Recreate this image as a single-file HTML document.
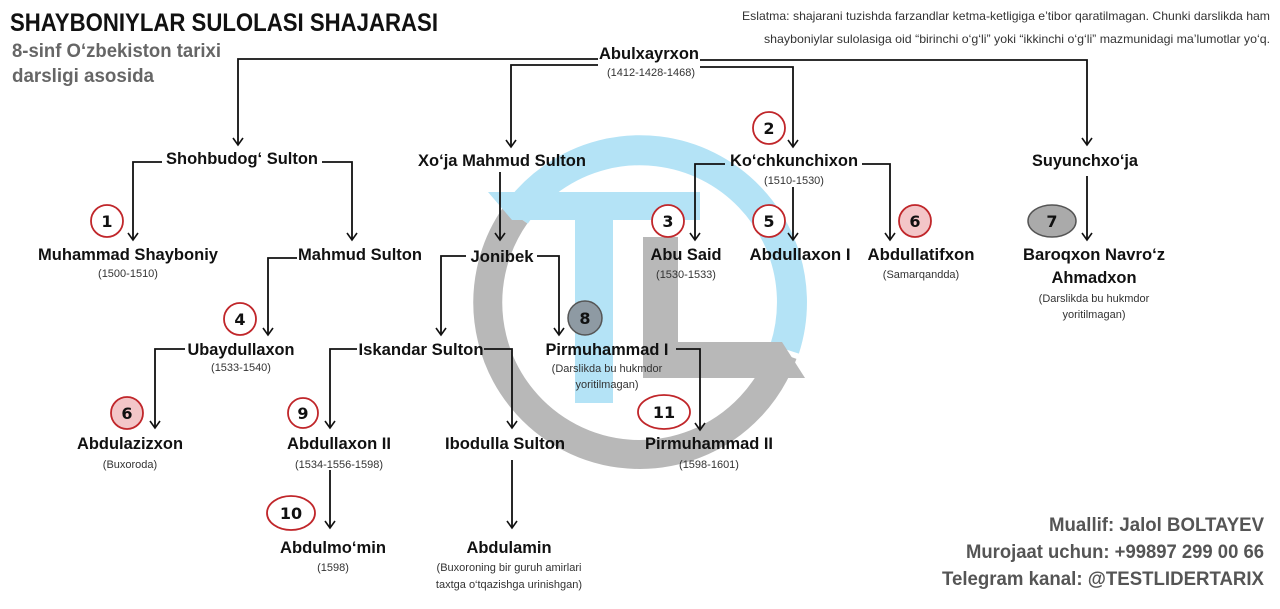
<!DOCTYPE html>
<html><head><meta charset="utf-8"><style>
html,body{margin:0;padding:0;background:#fff;}
svg{display:block;}
text{font-family:"Liberation Sans Narrow","Liberation Sans",sans-serif;}
.n{font-weight:bold;font-size:17px;fill:#111;text-anchor:middle;}
.d{font-size:11px;fill:#333;text-anchor:middle;}
.c{font-weight:bold;font-size:16px;fill:#111;text-anchor:middle;font-family:"DejaVu Sans","Liberation Sans",sans-serif;}
</style></head><body>
<svg width="1280" height="609" viewBox="0 0 1280 609" xmlns="http://www.w3.org/2000/svg">
<defs><marker id="a" markerWidth="14" markerHeight="14" refX="11" refY="6" orient="auto" markerUnits="userSpaceOnUse"><path d="M4,1 L11,6 L4,11" fill="none" stroke="#111" stroke-width="1.6"/></marker></defs>
<!-- watermark -->
<path d="M515.5,215 A152,152 0 1 0 782.8,354" fill="none" stroke="#b8b8b8" stroke-width="29"/>
<path d="M515.5,215 A152,152 0 0 1 784.6,349" fill="none" stroke="#b4e3f6" stroke-width="30"/>
<path d="M488,192 L700,192 L700,220 L613,220 L613,403 L575,403 L575,220 L512,220 Z" fill="#b4e3f6"/>
<path d="M643,237 L678,237 L678,342 L782,342 L805,378 L643,378 Z" fill="#b8b8b8"/>
<!-- title -->
<text x="10" y="31" style="font-weight:bold;font-size:25px;fill:#111" textLength="428" lengthAdjust="spacingAndGlyphs">SHAYBONIYLAR SULOLASI SHAJARASI</text>
<text x="12" y="57" style="font-weight:bold;font-size:19px;fill:#666" textLength="209" lengthAdjust="spacingAndGlyphs">8-sinf O‘zbekiston tarixi</text>
<text x="12" y="82" style="font-weight:bold;font-size:19px;fill:#666" textLength="142" lengthAdjust="spacingAndGlyphs">darsligi asosida</text>
<text x="1270" y="20" style="font-size:12px;fill:#333;text-anchor:end" textLength="528" lengthAdjust="spacingAndGlyphs">Eslatma: shajarani tuzishda farzandlar ketma-ketligiga e’tibor qaratilmagan. Chunki darslikda ham</text>
<text x="1270" y="43" style="font-size:12px;fill:#333;text-anchor:end" textLength="506" lengthAdjust="spacingAndGlyphs">shayboniylar sulolasiga oid “birinchi o‘g‘li” yoki “ikkinchi o‘g‘li” mazmunidagi ma’lumotlar yo‘q.</text>
<!-- connectors -->
<g fill="none" stroke="#111" stroke-width="1.8">
<path d="M598,59 H238 V145" marker-end="url(#a)"/>
<path d="M598,65 H511 V147" marker-end="url(#a)"/>
<path d="M700,60 H1087 V145" marker-end="url(#a)"/>
<path d="M700,67 H793 V147" marker-end="url(#a)"/>
<path d="M162,162 H133 V240" marker-end="url(#a)"/>
<path d="M322,162 H352 V240" marker-end="url(#a)"/>
<path d="M500,172 V240" marker-end="url(#a)"/>
<path d="M725,164 H695 V240" marker-end="url(#a)"/>
<path d="M793,187 V240" marker-end="url(#a)"/>
<path d="M862,164 H890 V240" marker-end="url(#a)"/>
<path d="M1087,176 V240" marker-end="url(#a)"/>
<path d="M297,258 H268 V335" marker-end="url(#a)"/>
<path d="M466,256 H441 V335" marker-end="url(#a)"/>
<path d="M537,256 H559 V335" marker-end="url(#a)"/>
<path d="M185,349 H155 V428" marker-end="url(#a)"/>
<path d="M357,349 H330 V428" marker-end="url(#a)"/>
<path d="M484,349 H512 V428" marker-end="url(#a)"/>
<path d="M676,349 H700 V430" marker-end="url(#a)"/>
<path d="M330,470 V528" marker-end="url(#a)"/>
<path d="M512,460 V528" marker-end="url(#a)"/>
</g>
<!-- badges -->
<g stroke="#c0262a" stroke-width="1.8">
<circle cx="107" cy="221" r="16" fill="#fff"/>
<circle cx="769" cy="128" r="16" fill="#fff"/>
<circle cx="668" cy="221" r="16" fill="#fff"/>
<circle cx="769" cy="221" r="16" fill="#fff"/>
<circle cx="915" cy="221" r="16" fill="#f3c6c8"/>
<circle cx="240" cy="319" r="16" fill="#fff"/>
<circle cx="127" cy="413" r="16" fill="#f3c6c8"/>
<circle cx="303" cy="413" r="15" fill="#fff"/>
<ellipse cx="664" cy="412" rx="26" ry="17" fill="#fff"/>
<ellipse cx="291" cy="513" rx="24" ry="17" fill="#fff"/>
</g>
<ellipse cx="1052" cy="221" rx="24" ry="16" fill="#aaa" stroke="#555" stroke-width="1.5"/>
<circle cx="585" cy="318" r="17" fill="#8e9aa3" stroke="#555" stroke-width="1.5"/>
<g class="c">
<text class="c" x="107" y="227">1</text><text class="c" x="769" y="134">2</text>
<text class="c" x="668" y="227">3</text><text class="c" x="769" y="227">5</text>
<text class="c" x="915" y="227">6</text><text class="c" x="1052" y="227">7</text>
<text class="c" x="240" y="325">4</text><text class="c" x="585" y="324">8</text>
<text class="c" x="127" y="419">6</text><text class="c" x="303" y="419">9</text>
<text class="c" x="664" y="418">11</text><text class="c" x="291" y="519">10</text>
</g>
<!-- names -->
<text class="n" x="649" y="59" textLength="100" lengthAdjust="spacingAndGlyphs">Abulxayrxon</text>
<text class="d" x="651" y="76">(1412-1428-1468)</text>
<text class="n" x="242" y="164" textLength="152" lengthAdjust="spacingAndGlyphs">Shohbudog‘ Sulton</text>
<text class="n" x="502" y="166" textLength="168" lengthAdjust="spacingAndGlyphs">Xo‘ja Mahmud Sulton</text>
<text class="n" x="794" y="166" textLength="128" lengthAdjust="spacingAndGlyphs">Ko‘chkunchixon</text>
<text class="d" x="794" y="184">(1510-1530)</text>
<text class="n" x="1085" y="166" textLength="106" lengthAdjust="spacingAndGlyphs">Suyunchxo‘ja</text>
<text class="n" x="128" y="260" textLength="180" lengthAdjust="spacingAndGlyphs">Muhammad Shayboniy</text>
<text class="d" x="128" y="277">(1500-1510)</text>
<text class="n" x="360" y="260" textLength="124" lengthAdjust="spacingAndGlyphs">Mahmud Sulton</text>
<text class="n" x="502" y="262" textLength="63" lengthAdjust="spacingAndGlyphs">Jonibek</text>
<text class="n" x="686" y="260" textLength="71" lengthAdjust="spacingAndGlyphs">Abu Said</text>
<text class="d" x="686" y="278">(1530-1533)</text>
<text class="n" x="800" y="260" textLength="101" lengthAdjust="spacingAndGlyphs">Abdullaxon I</text>
<text class="n" x="921" y="260" textLength="107" lengthAdjust="spacingAndGlyphs">Abdullatifxon</text>
<text class="d" x="921" y="278">(Samarqandda)</text>
<text class="n" x="1094" y="260" textLength="142" lengthAdjust="spacingAndGlyphs">Baroqxon Navro‘z</text>
<text class="n" x="1094" y="283" textLength="85" lengthAdjust="spacingAndGlyphs">Ahmadxon</text>
<text class="d" x="1094" y="302">(Darslikda bu hukmdor</text>
<text class="d" x="1094" y="318">yoritilmagan)</text>
<text class="n" x="241" y="355" textLength="107" lengthAdjust="spacingAndGlyphs">Ubaydullaxon</text>
<text class="d" x="241" y="371">(1533-1540)</text>
<text class="n" x="421" y="355" textLength="125" lengthAdjust="spacingAndGlyphs">Iskandar Sulton</text>
<text class="n" x="607" y="355" textLength="123" lengthAdjust="spacingAndGlyphs">Pirmuhammad I</text>
<text class="d" x="607" y="372">(Darslikda bu hukmdor</text>
<text class="d" x="607" y="388">yoritilmagan)</text>
<text class="n" x="130" y="449" textLength="106" lengthAdjust="spacingAndGlyphs">Abdulazizxon</text>
<text class="d" x="130" y="468">(Buxoroda)</text>
<text class="n" x="339" y="449" textLength="104" lengthAdjust="spacingAndGlyphs">Abdullaxon II</text>
<text class="d" x="339" y="468">(1534-1556-1598)</text>
<text class="n" x="505" y="449" textLength="120" lengthAdjust="spacingAndGlyphs">Ibodulla Sulton</text>
<text class="n" x="709" y="449" textLength="128" lengthAdjust="spacingAndGlyphs">Pirmuhammad II</text>
<text class="d" x="709" y="468">(1598-1601)</text>
<text class="n" x="333" y="553" textLength="106" lengthAdjust="spacingAndGlyphs">Abdulmo‘min</text>
<text class="d" x="333" y="571">(1598)</text>
<text class="n" x="509" y="553" textLength="85" lengthAdjust="spacingAndGlyphs">Abdulamin</text>
<text class="d" x="509" y="571">(Buxoroning bir guruh amirlari</text>
<text class="d" x="509" y="588">taxtga o‘tqazishga urinishgan)</text>
<!-- footer -->
<g style="font-weight:bold;font-size:19px;fill:#555;text-anchor:end">
<text x="1264" y="531" textLength="215" lengthAdjust="spacingAndGlyphs">Muallif: Jalol BOLTAYEV</text>
<text x="1264" y="558" textLength="298" lengthAdjust="spacingAndGlyphs">Murojaat uchun: +99897 299 00 66</text>
<text x="1264" y="585" textLength="322" lengthAdjust="spacingAndGlyphs">Telegram kanal: @TESTLIDERTARIX</text>
</g>
</svg>
</body></html>
